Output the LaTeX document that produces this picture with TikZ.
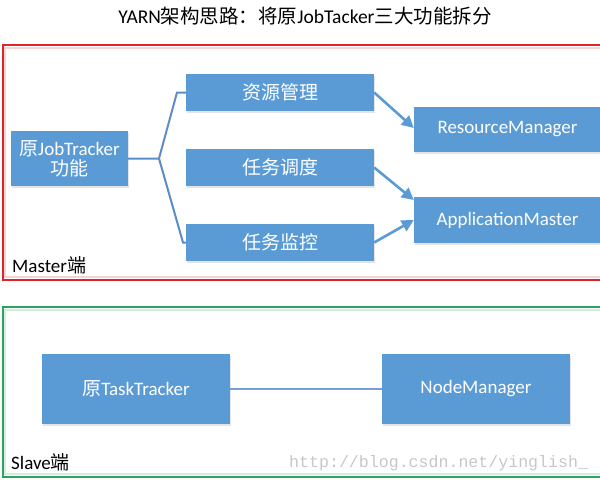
\documentclass[tikz,border=0pt]{standalone}
\usepackage{fontspec}
\setmainfont{Carlito}
\newfontfamily\cjk{Noto Sans CJK SC}
\newfontfamily\wmfont{Liberation Mono}
\usetikzlibrary{arrows.meta,shadows}
\definecolor{boxblue}{HTML}{5B9BD5}
\definecolor{connblue}{HTML}{5B8EC8}
\definecolor{framered}{HTML}{DC242A}
\definecolor{framegreen}{HTML}{2AA55C}
\begin{document}
\begin{tikzpicture}[x=1pt,y=-1pt,
  box/.style={fill=boxblue, text=white, font=\fontsize{19}{22}\selectfont, align=center, inner sep=0pt,
    drop shadow={shadow xshift=0.8pt, shadow yshift=-1.8pt, fill=black!30, opacity=0.35}},
  conn/.style={draw=connblue, line width=2pt},
  arr/.style={draw=boxblue, line width=2.6pt, -{Triangle[length=12pt,width=12pt]}},
  frame/.style={line width=2pt},
  lbl/.style={anchor=west, inner sep=0pt, font=\fontsize{19}{22}\selectfont},
]
\useasboundingbox (0,0) rectangle (600,483);

\node[font=\fontsize{19.5}{22}\selectfont] (title) at (305,16) {YARN{\cjk 架构思路：将原}JobTacker{\cjk 三大功能拆分}};

\draw[line width=1.5pt, draw=framered!20] (5,48) rectangle (604,277);
\draw[frame, draw=framered] (3,45) rectangle (606,280);
\draw[line width=1.5pt, draw=framegreen!20] (5,310) rectangle (604,474);
\draw[frame, draw=framegreen] (3,307) rectangle (606,477);

\node[box, minimum width=117pt, minimum height=55pt] (jt) at (69.5,158.5) {{\cjk 原}JobTracker\\[-2pt]{\cjk 功能}};
\node[box, minimum width=188pt, minimum height=37pt] (zy) at (280,92.5) {\cjk 资源管理};
\node[box, minimum width=188pt, minimum height=37pt] (dd) at (280,167.5) {\cjk 任务调度};
\node[box, minimum width=188pt, minimum height=37pt] (jk) at (280,242.5) {\cjk 任务监控};
\node[box, minimum width=187pt, minimum height=45pt] (rm) at (507.5,129.5) {ResourceManager};
\node[box, minimum width=187pt, minimum height=46pt] (am) at (507.5,220) {ApplicationMaster};
\node[box, minimum width=188pt, minimum height=70pt] (tt) at (136,389) {{\cjk 原}TaskTracker};
\node[box, minimum width=188pt, minimum height=70pt] (nm) at (476,389) {NodeManager};

\coordinate (br) at (159,158.5);
\coordinate (bu) at (177,92.5);
\coordinate (bd) at (183,242.5);
\draw[conn] (jt.east) -- (br) -- (bu) -- (zy.west);
\draw[conn] (br) -- (bd) -- (jk.west);

\draw[arr] (zy.east) -- ([yshift=1.5pt]rm.west);
\draw[arr] (dd.east) -- ([yshift=20pt]am.west);
\draw[arr] (jk.east) -- (am.west);

\draw[draw=connblue!85, line width=2pt] (tt.east) -- (nm.west);

\node[lbl] (master) at (12,265) {Master{\cjk 端}};
\node[lbl] (slave) at (11,462) {Slave{\cjk 端}};
\node[anchor=west, inner sep=0pt, text=black!22, font=\wmfont\fontsize{16.6}{18}\selectfont] (wm) at (289,463) {http://blog.csdn.net/yinglish\_};
\end{tikzpicture}
\end{document}
